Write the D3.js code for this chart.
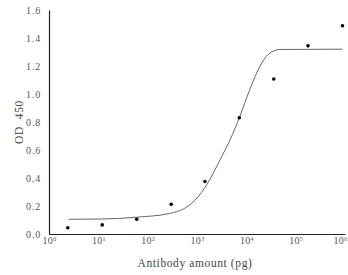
<!DOCTYPE html>
<html>
<head>
<meta charset="utf-8">
<script src="https://cdn.jsdelivr.net/npm/d3@7"></script>
<style>
  body { margin: 0; background: #fff; }
</style>
</head>
<body>
<div id="chart"></div>
<script>
// measured points (antibody amount in pg, OD 450)
const amounts = [2.4, 12, 60, 300, 1450, 7200, 36000, 178000, 890000];
const od = [0.045, 0.065, 0.105, 0.213, 0.375, 0.83, 1.107, 1.344, 1.487];

// fitted curve
const fitX = [2.5, 12, 60, 290, 900, 1670, 2930, 4700, 7200, 11800, 19000, 28000, 48000, 870000];
const fitY = [0.105, 0.107, 0.12, 0.148, 0.24, 0.366, 0.53, 0.674, 0.83, 1.033, 1.2, 1.284, 1.318, 1.32];

const xTicks = [1, 10, 100, 1000, 10000, 100000, 1000000];
const yTicks = [0, 0.2, 0.4, 0.6, 0.8, 1.0, 1.2, 1.4, 1.6];

const FONT = "'Liberation Serif', 'Times New Roman', serif";
const W = 348, H = 275;
const margin = { top: 10, right: 3, bottom: 41, left: 49 };

const svg = d3.select("#chart").append("svg")
  .attr("width", W)
  .attr("height", H);

const x = d3.scaleLog()
  .domain([1, 1e6])
  .range([margin.left, W - margin.right]);

const y = d3.scaleLinear()
  .domain([0, 1.6])
  .range([H - margin.bottom, margin.top]);

// Y axis
const yAxis = svg.append("g")
  .attr("transform", "translate(" + margin.left + ",0)")
  .call(d3.axisLeft(y).tickValues(yTicks).tickSize(0).tickPadding(8).tickFormat(d3.format(".1f")));
yAxis.attr("font-family", null).attr("font-size", null);
yAxis.select(".domain").attr("stroke", "#222").attr("stroke-width", 1.2);
yAxis.selectAll("text")
  .attr("font-family", FONT)
  .attr("font-size", 10)
  .attr("letter-spacing", 0.8)
  .attr("fill", "#555");

// X axis
const xAxis = svg.append("g")
  .attr("transform", "translate(0," + (H - margin.bottom) + ")")
  .call(d3.axisBottom(x).tickValues(xTicks).tickSize(0).tickPadding(3).tickFormat(""));
xAxis.attr("font-family", null).attr("font-size", null);
xAxis.select(".domain").attr("stroke", "#222").attr("stroke-width", 1.2);
xAxis.selectAll(".tick text")
  .attr("font-family", FONT)
  .attr("font-size", 10)
  .attr("letter-spacing", 0.3)
  .attr("fill", "#555")
  .attr("dx", d => d === 1e6 ? -5 : 0)
  .each(function(d) {
    const t = d3.select(this);
    t.text("");
    t.append("tspan").text("10");
    t.append("tspan")
      .attr("dy", "-0.45em")
      .attr("font-size", 6)
      .text(Math.round(Math.log10(d)));
  });

// axis titles
svg.append("text")
  .attr("x", (margin.left + W - margin.right) / 2 - 2)
  .attr("y", 267)
  .attr("text-anchor", "middle")
  .attr("font-family", FONT)
  .attr("font-size", 11.5)
  .attr("letter-spacing", 0.6)
  .attr("fill", "#444")
  .text("Antibody amount (pg)");

svg.append("text")
  .attr("transform", "translate(23," + ((margin.top + H - margin.bottom) / 2) + ") rotate(-90)")
  .attr("text-anchor", "middle")
  .attr("font-family", FONT)
  .attr("font-size", 11.5)
  .attr("letter-spacing", 0.6)
  .attr("fill", "#444")
  .attr("xml:space", "preserve")
  .text("OD  450");

// fitted curve
const line = d3.line()
  .x(d => x(d[0]))
  .y(d => y(d[1]))
  .curve(d3.curveMonotoneX);

svg.append("path")
  .datum(d3.zip(fitX, fitY))
  .attr("d", line)
  .attr("fill", "none")
  .attr("stroke", "#666")
  .attr("stroke-width", 1);

// points
svg.selectAll("circle.pt")
  .data(d3.zip(amounts, od))
  .enter()
  .append("circle")
  .attr("class", "pt")
  .attr("cx", d => x(d[0]))
  .attr("cy", d => y(d[1]))
  .attr("r", 1.8)
  .attr("fill", "#000");
</script>
</body>
</html>
